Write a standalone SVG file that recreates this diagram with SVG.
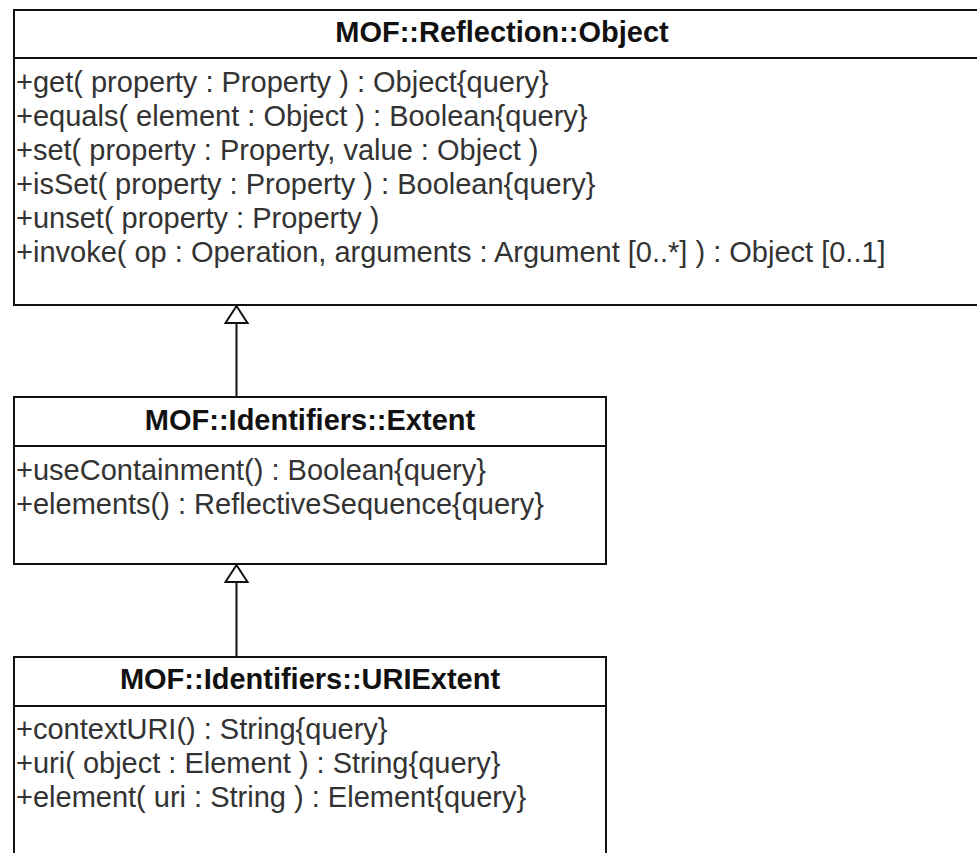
<svg xmlns="http://www.w3.org/2000/svg" width="977" height="853" viewBox="0 0 977 853">
<style>
.box{fill:#fff;stroke:#111;stroke-width:2}
.sep{stroke:#111;stroke-width:2}
.hd{font-family:"Liberation Sans",Arial,sans-serif;font-weight:bold;font-size:29px;fill:#111;text-anchor:middle}
.op{font-family:"Liberation Sans",Arial,sans-serif;font-size:29px;fill:#333}
.edge{stroke:#111;stroke-width:2;fill:none}
.gen{fill:#fff;stroke:#111;stroke-width:2}
</style>
<rect width="977" height="853" fill="#fff"/>
<g id="connectors">
<line class="edge" x1="236.5" y1="323" x2="236.5" y2="397"/>
<polygon class="gen" points="236.5,306 225.5,323 247.5,323"/>
<line class="edge" x1="236.5" y1="582" x2="236.5" y2="657"/>
<polygon class="gen" points="236.5,565 225.5,582 247.5,582"/>
</g>
<g id="object">
<rect class="box" x="14" y="10" width="1000" height="295"/>
<line class="sep" x1="14" y1="58" x2="1014" y2="58"/>
<text class="hd" x="502" y="42">MOF::Reflection::Object</text>
<text class="op" x="16" y="92">+get( property : Property ) : Object{query}</text>
<text class="op" x="16" y="126">+equals( element : Object ) : Boolean{query}</text>
<text class="op" x="16" y="160">+set( property : Property, value : Object )</text>
<text class="op" x="16" y="194">+isSet( property : Property ) : Boolean{query}</text>
<text class="op" x="16" y="228">+unset( property : Property )</text>
<text class="op" x="16" y="262">+invoke( op : Operation, arguments : Argument [0..*] ) : Object [0..1]</text>
</g>
<g id="extent">
<rect class="box" x="14" y="397" width="592" height="167"/>
<line class="sep" x1="14" y1="446" x2="606" y2="446"/>
<text class="hd" x="310" y="430">MOF::Identifiers::Extent</text>
<text class="op" x="16" y="480">+useContainment() : Boolean{query}</text>
<text class="op" x="16" y="514">+elements() : ReflectiveSequence{query}</text>
</g>
<g id="uriextent">
<rect class="box" x="14" y="657" width="592" height="220"/>
<line class="sep" x1="14" y1="706" x2="606" y2="706"/>
<text class="hd" x="310" y="689">MOF::Identifiers::URIExtent</text>
<text class="op" x="16" y="739">+contextURI() : String{query}</text>
<text class="op" x="16" y="773">+uri( object : Element ) : String{query}</text>
<text class="op" x="16" y="807">+element( uri : String ) : Element{query}</text>
</g>
</svg>
